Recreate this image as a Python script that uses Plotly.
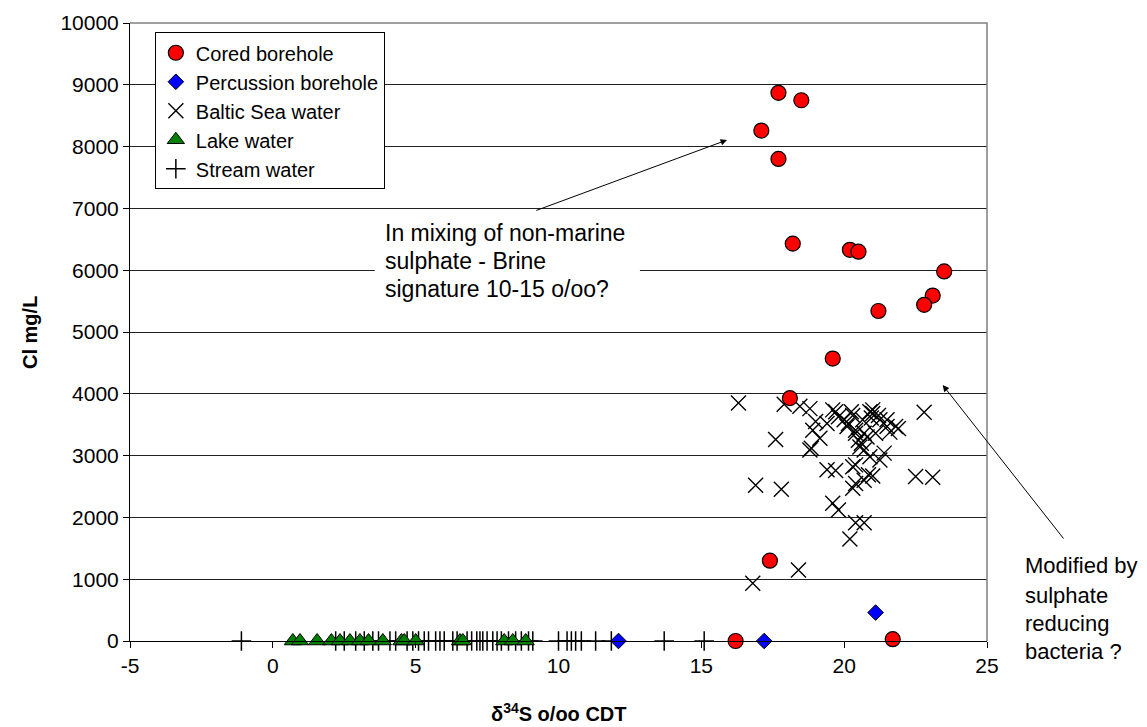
import plotly.graph_objects as go

# ---- data ----
cored_x = [17.7, 18.5, 17.1, 17.7, 18.2, 20.2, 20.5, 23.5, 23.1, 22.8, 21.2, 19.6, 18.1, 17.4, 16.2, 21.7]
cored_y = [8870, 8750, 8260, 7800, 6430, 6330, 6300, 5980, 5590, 5440, 5340, 4570, 3930, 1300, 0, 30]

perc_x = [12.1, 17.2, 21.1]
perc_y = [0, 0, 460]

baltic_x = [16.3, 17.9, 18.45, 18.8, 19.0, 19.15, 18.85, 18.8, 18.9, 19.4, 19.6, 19.7, 19.8, 20.0,
            20.1, 20.25, 20.4, 20.4, 20.5, 20.65, 20.7, 20.7, 20.9, 21.0, 21.0, 21.1, 21.25, 21.5,
            21.5, 21.8, 21.9, 20.55, 20.9, 21.25, 21.4, 20.4, 19.4, 19.7, 20.3, 20.85, 21.0, 20.7,
            20.4, 20.3, 19.6, 19.8, 20.2, 20.4, 20.7, 17.6, 16.9, 17.8, 16.8, 18.4, 22.8, 22.5,
            23.1, 20.15, 20.3, 20.8, 20.95, 21.2, 20.6, 21.6]
baltic_y = [3850, 3830, 3800, 3760, 3550, 3280, 3120, 3090, 3410, 3520, 3740, 3710, 3630, 3580,
            3470, 3710, 3360, 3410, 3250, 3580, 3360, 3090, 3710, 3740, 3680, 3360, 3580, 3470,
            3580, 3470, 3440, 3140, 2980, 2930, 3040, 2850, 2770, 2760, 2820, 2690, 2670, 2600,
            2550, 2470, 2230, 2120, 1650, 1915, 1915, 3260, 2520, 2455, 935, 1150, 3700, 2660,
            2650, 3520, 3650, 3300, 3610, 3650, 3200, 3380]

lake_x = [0.7, 0.95, 1.55, 2.05, 2.35, 2.7, 3.05, 3.35, 3.85, 4.5, 4.6, 5.0, 6.55, 6.65, 8.1, 8.4, 8.85]
lake_y = [0] * len(lake_x)

stream_x = [-1.1, 2.2, 2.5, 2.9, 3.2, 3.5, 3.7, 4.1, 4.3, 4.7, 4.9, 5.1, 5.3, 5.45, 5.7, 5.85, 6.0,
            6.3, 6.45, 6.8, 6.96, 7.14, 7.25, 7.35, 7.5, 7.7, 7.85, 8.0, 8.25, 8.5, 8.7, 8.95, 9.1,
            10.0, 10.3, 10.45, 10.6, 10.8, 11.3, 11.85, 13.7, 15.1]
stream_y = [0] * len(stream_x)

x_ticks = [-5, 0, 5, 10, 15, 20, 25]
y_ticks = [0, 1000, 2000, 3000, 4000, 5000, 6000, 7000, 8000, 9000, 10000]

FONT = "Liberation Sans, Arial, sans-serif"

fig = go.Figure()
fig.add_trace(go.Scatter(x=stream_x, y=stream_y, mode="markers", name="Stream water",
                         marker=dict(symbol="cross-thin", size=14, color="black",
                                     line=dict(color="black", width=1.5)), cliponaxis=False))
fig.add_trace(go.Scatter(x=lake_x, y=lake_y, mode="markers", name="Lake water",
                         marker=dict(symbol="triangle-up", size=15, color="#008000",
                                     line=dict(color="black", width=1)), cliponaxis=False))
fig.add_trace(go.Scatter(x=baltic_x, y=baltic_y, mode="markers", name="Baltic Sea water",
                         marker=dict(symbol="x-thin", size=15, color="black",
                                     line=dict(color="black", width=1.4)), cliponaxis=False))
fig.add_trace(go.Scatter(x=perc_x, y=perc_y, mode="markers", name="Percussion borehole",
                         marker=dict(symbol="diamond", size=12, color="#0000FF",
                                     line=dict(color="black", width=1)), cliponaxis=False))
fig.add_trace(go.Scatter(x=cored_x, y=cored_y, mode="markers", name="Cored borehole",
                         marker=dict(symbol="circle", size=15, color="#FF0000",
                                     line=dict(color="black", width=1.2)), cliponaxis=False))

fig.update_layout(
    width=1147, height=727, autosize=False,
    margin=dict(l=130, r=160, t=23, b=86),
    paper_bgcolor="white", plot_bgcolor="white",
    font=dict(family=FONT, size=20, color="black"),
    showlegend=True,
    legend=dict(x=0.029, y=0.985, xanchor="left", yanchor="top",
                bgcolor="white", bordercolor="black", borderwidth=1,
                font=dict(size=20), traceorder="reversed"),
    xaxis=dict(range=[-5, 25], tickvals=x_ticks, ticktext=[str(v) for v in x_ticks],
               showgrid=False, zeroline=False, showline=True, linecolor="black", linewidth=1,
               ticks="outside", ticklen=6, tickcolor="black", tickfont=dict(size=21)),
    yaxis=dict(range=[0, 10000], tickvals=y_ticks, ticktext=[str(v) for v in y_ticks],
               showgrid=True, gridcolor="#222222", gridwidth=1, zeroline=False,
               showline=True, linecolor="black", linewidth=1,
               ticks="outside", ticklen=6, tickcolor="black", tickfont=dict(size=21)),
)

# frame top/right (gray)
fig.add_shape(type="path", xref="paper", yref="paper", path="M 0 1 L 1 1 L 1 0",
              line=dict(color="#808080", width=1.5), layer="above")

# white box behind annotation text
fig.add_shape(type="rect", xref="x", yref="y", x0=3.57, x1=12.85, y0=5518, y1=6893,
              fillcolor="white", line=dict(width=0), layer="between")

# axis titles
fig.add_annotation(xref="paper", yref="paper", x=-0.1167, y=0.5, text="<b>Cl mg/L</b>",
                   textangle=-90, showarrow=False, xanchor="center", yanchor="middle",
                   font=dict(size=20))
fig.add_annotation(xref="paper", yref="paper", x=0.5, y=-0.115,
                   text="<b>δ<sup>34</sup>S o/oo CDT</b>", showarrow=False,
                   xanchor="center", yanchor="middle", font=dict(size=20))

# arrows
fig.add_annotation(x=15.9, y=8107, ax=9.17, ay=6958, axref="x", ayref="y", xref="x", yref="y",
                   text="", showarrow=True, arrowhead=2, arrowsize=1.3, arrowwidth=1,
                   arrowcolor="black")
fig.add_annotation(x=23.45, y=4142, ax=27.72, ay=1634, axref="x", ayref="y", xref="x", yref="y",
                   text="", showarrow=True, arrowhead=2, arrowsize=1.3, arrowwidth=1,
                   arrowcolor="black")

# annotation texts
lines1 = ["In mixing of non-marine", "sulphate - Brine", "signature 10-15 o/oo?"]
ys1 = [6602, 6149, 5696]
for t, yv in zip(lines1, ys1):
    fig.add_annotation(x=3.85, y=yv, xref="x", yref="y", text=t, showarrow=False,
                       xanchor="left", yanchor="middle", font=dict(size=23))

lines2 = ["Modified by", "sulphate", "reducing", "bacteria ?"]
ys2 = [0.1214, 0.0744, 0.0291, -0.0162]
for t, yv in zip(lines2, ys2):
    fig.add_annotation(x=1.042, y=yv, xref="paper", yref="paper", text=t, showarrow=False,
                       xanchor="left", yanchor="middle", font=dict(size=22))

fig.write_html("out.html")
